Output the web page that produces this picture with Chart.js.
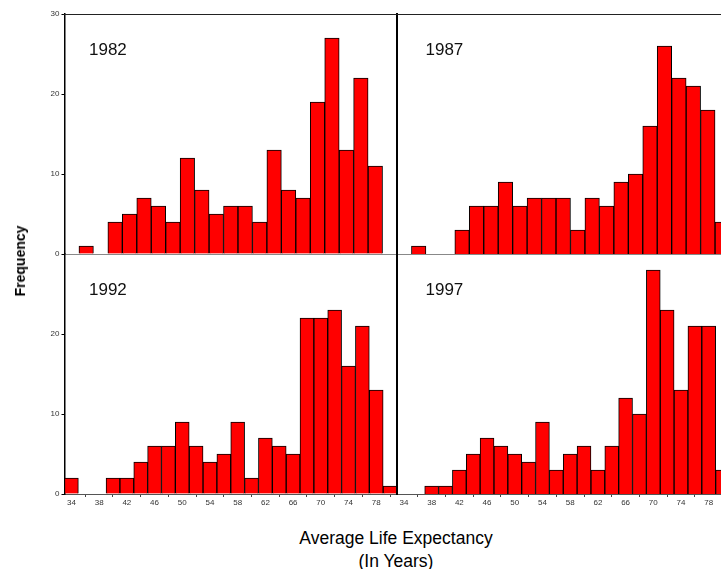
<!DOCTYPE html>
<html>
<head>
<meta charset="utf-8">
<script src="https://cdn.jsdelivr.net/npm/chart.js@4.4.1/dist/chart.umd.min.js"></script>
<style>
  html, body { margin: 0; padding: 0; width: 721px; height: 569px; overflow: hidden; background: #fff; }
  body { position: relative; font-family: "Liberation Sans", Arial, sans-serif; }
  canvas { position: absolute; }
  .label { position: absolute; color: #000; white-space: nowrap; text-align: center; }
</style>
</head>
<body>
<canvas id="c1982" width="398" height="256" style="left:0px;top:0px"></canvas>
<canvas id="c1987" width="341" height="256" style="left:390px;top:0px"></canvas>
<canvas id="c1992" width="398" height="270" style="left:0px;top:250px"></canvas>
<canvas id="c1997" width="341" height="270" style="left:390px;top:250px"></canvas>

<div class="label" style="left:20px;top:261px;transform:translate(-50%,-50%) rotate(-90deg);font-size:14px;font-weight:bold;">Frequency</div>
<div class="label" style="left:396px;top:538px;transform:translate(-50%,-50%);font-size:17.5px;">Average Life Expectancy</div>
<div class="label" style="left:396px;top:561px;transform:translate(-50%,-50%);font-size:17.5px;">(In Years)</div>

<script>
// Life-expectancy bins (midpoints, years). Lower panels use 2-year bins.
const lowerBins = ['34','36','38','40','42','44','46','48','50','52','54','56',
                   '58','60','62','64','66','68','70','72','74','76','78','80'];
// Upper panels were binned into 23 intervals over the same range.
const upperBins = ['34.0','36.1','38.2','40.3','42.4','44.5','46.6','48.7','50.7','52.8','54.9','57.0',
                   '59.1','61.2','63.3','65.3','67.4','69.5','71.6','73.7','75.8','77.9','80.0'];

// Number of countries per bin
const freq1982 = [0,1,0,4,5,7,6,4,12,8,5,6,6,4,13,8,7,19,27,13,22,11,0];
const freq1987 = [0,1,0,0,3,6,6,9,6,7,7,7,3,7,6,9,10,16,26,22,21,18,4];
const freq1992 = [2,0,0,2,2,4,6,6,9,6,4,5,9,2,7,6,5,22,22,23,16,21,13,1];
const freq1997 = [0,0,1,1,3,5,7,6,5,4,9,3,5,6,3,6,12,10,28,23,13,21,21,3];

// Frequency axis ticks
const yTicks = [0, 10, 20, 30];

const FONT = '"Liberation Sans", Arial, sans-serif';

// Panel frame: top rule, gray base line and the year caption
function framePlugin(cfg) {
  return {
    id: 'panelFrame',
    afterDraw(chart) {
      const { ctx, chartArea: a } = chart;
      ctx.save();
      if (cfg.upper) {
        ctx.strokeStyle = '#222';
        ctx.lineWidth = 1;
        ctx.beginPath();
        ctx.moveTo(a.left - 1, Math.round(a.top) + 0.5);
        ctx.lineTo(a.right + 2, Math.round(a.top) + 0.5);
        ctx.stroke();
        ctx.strokeStyle = '#888';
        ctx.beginPath();
        ctx.moveTo(a.left, Math.round(a.bottom) + 0.5);
        ctx.lineTo(a.right + 2, Math.round(a.bottom) + 0.5);
        ctx.stroke();
      }
      ctx.fillStyle = '#111';
      ctx.font = '17px ' + FONT;
      ctx.textBaseline = 'alphabetic';
      ctx.textAlign = 'left';
      ctx.fillText(cfg.year, a.left + cfg.captionX, a.top + 41);
      ctx.restore();
    }
  };
}

function makePanel(id, cfg) {
  const labels = cfg.labels;
  new Chart(document.getElementById(id), {
    type: 'bar',
    data: {
      labels: labels,
      datasets: [{
        data: cfg.values,
        backgroundColor: '#ff0000',
        borderColor: '#000',
        borderWidth: 1,
        barPercentage: 1,
        categoryPercentage: 1
      }]
    },
    options: {
      responsive: false,
      animation: false,
      events: [],
      layout: { padding: cfg.padding },
      plugins: { legend: { display: false }, tooltip: { enabled: false } },
      scales: {
        x: {
          type: 'category',
          offset: true,
          display: cfg.showX,
          afterFit: s => {
            s.height = cfg.showX ? 26 : 0;
            s.paddingLeft = 0;
            s.paddingRight = 0;
          },
          ticks: {
            autoSkip: false,
            maxRotation: 0,
            minRotation: 0,
            padding: 1,
            color: '#333',
            font: { size: 8, family: FONT },
            callback: (v, i) => (i % 2 === 0 && i < labels.length - 1) ? labels[i] : null
          },
          grid: { drawOnChartArea: false, tickLength: 3, color: '#444' },
          border: { display: true, color: '#555', width: 1 }
        },
        y: {
          min: 0,
          max: 30,
          afterBuildTicks: s => { s.ticks = yTicks.map(v => ({ value: v })); },
          afterFit: s => {
            s.width = cfg.axisWidth;
            s.paddingTop = 0;
            s.paddingBottom = 0;
          },
          ticks: {
            display: cfg.showY,
            padding: 2,
            color: '#333',
            font: { size: 8, family: FONT },
            callback: v => (cfg.upper || v !== 30) ? String(v) : null
          },
          grid: { display: cfg.showY, drawOnChartArea: false, tickLength: 3, color: '#000' },
          border: { display: true, color: '#000', width: cfg.borderWidth }
        }
      }
    },
    plugins: [framePlugin(cfg)]
  });
}

makePanel('c1982', { labels: upperBins, values: freq1982, year: '1982', upper: true,
  showX: false, showY: true, axisWidth: 64.5, borderWidth: 1.5, captionX: 24.5,
  padding: { top: 14, right: 1, bottom: 2, left: 0 } });
makePanel('c1987', { labels: upperBins, values: freq1987, year: '1987', upper: true,
  showX: false, showY: false, axisWidth: 7, borderWidth: 2, captionX: 28.5,
  padding: { top: 14, right: 1.5, bottom: 2, left: 0 } });
makePanel('c1992', { labels: lowerBins, values: freq1992, year: '1992', upper: false,
  showX: true, showY: true, axisWidth: 64.5, borderWidth: 1.5, captionX: 24.5,
  padding: { top: 4, right: 1, bottom: 0, left: 0 } });
makePanel('c1997', { labels: lowerBins, values: freq1997, year: '1997', upper: false,
  showX: true, showY: false, axisWidth: 7, borderWidth: 2, captionX: 28.5,
  padding: { top: 4, right: 1.5, bottom: 0, left: 0 } });
</script>
</body>
</html>
